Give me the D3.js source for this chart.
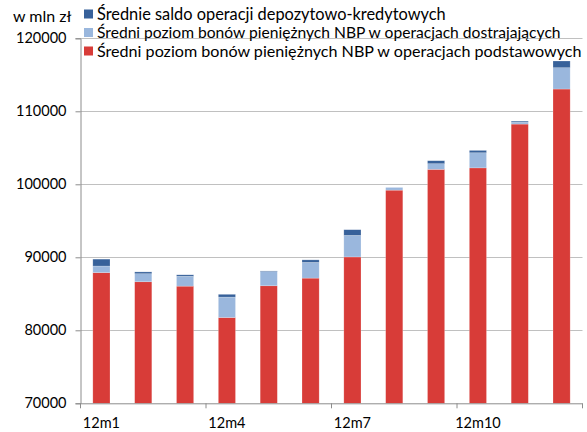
<!DOCTYPE html>
<html><head><meta charset="utf-8">
<script src="https://cdn.jsdelivr.net/npm/d3@7"></script>
<style>body{margin:0;background:#fff}svg{display:block}text{font-family:Lato,"Open Sans",sans-serif;fill:#000}</style>
</head><body><svg id="c" width="587" height="432"></svg>
<script>
const categories = ["12m1","12m2","12m3","12m4","12m5","12m6","12m7","12m8","12m9","12m10","12m11","12m12"];
const tickLabels = ["12m1","12m4","12m7","12m10"];
const yTicks = [70000,80000,90000,100000,110000,120000];
const seriesNames = ["Średni poziom bonów pieniężnych NBP w operacjach podstawowych","Średni poziom bonów pieniężnych NBP w operacjach dostrajających","Średnie saldo operacji depozytowo-kredytowych"];
const basicOps = [87900, 86650, 86050, 81750, 86100, 87150, 90050, 99200, 102050, 102250, 108250, 113050];
const fineOps = [900, 1100, 1350, 2800, 1950, 2150, 2950, 370, 770, 2070, 250, 2920];
const depoCred = [950, 250, 200, 380, 80, 350, 780, 0, 410, 320, 150, 920];
const colors = ["#d83c38","#9ab7dd","#37619a"];

const svg = d3.select("#c");
const L=80.5, R=582.5, T=38.3, B=403.3;
const x = d3.scaleBand().domain(categories).range([L,R]).paddingInner(0.59).paddingOuter(0.295);
const y = d3.scaleLinear().domain([70000,120000]).range([B,T]);
const yMin = y.domain()[0];

// gridlines
svg.append("g").selectAll("line").data(yTicks.filter(d=>d>yMin)).join("line")
  .attr("x1",L).attr("x2",R).attr("y1",d=>Math.round(y(d))+0.5).attr("y2",d=>Math.round(y(d))+0.5)
  .attr("stroke","#c0c0c0").attr("stroke-width",1);

// stacked data
const rows = categories.map((c,i)=>({cat:c, a:basicOps[i], b:fineOps[i], c2:depoCred[i]}));
const stack = d3.stack().keys(["a","b","c2"])(rows);
svg.append("g").selectAll("g").data(stack).join("g").attr("fill",(d,i)=>colors[i])
  .selectAll("rect").data(d=>d).join("rect")
  .attr("x",d=>x(d.data.cat)).attr("width",x.bandwidth())
  .attr("y",d=>y(d[1])).attr("height",d=>Math.max(0,y(Math.max(d[0],yMin))-y(d[1])))
  .attr("stroke","rgba(255,255,255,0.35)").attr("stroke-width",0.6);

// y axis
const ya = d3.axisLeft(y).tickValues(yTicks).tickSize(5).tickFormat(d3.format("d"));
const gy = svg.append("g").attr("transform",`translate(${L},0)`).call(ya);
gy.select(".domain").attr("stroke","#8c8c8c");
gy.selectAll(".tick line").attr("stroke","#8c8c8c").attr("x1",-5).attr("x2",0);
gy.selectAll(".tick text").attr("x",-14).attr("font-size","14.5px").attr("font-family","Lato").attr("fill","#000");

// x axis
const xa = d3.axisBottom(x).tickValues(tickLabels).tickSize(0);
const gx = svg.append("g").attr("transform",`translate(0,${B})`).call(xa);
gx.select(".domain").attr("stroke","#8c8c8c").attr("d",`M${L},0.5H${R}`);
gx.selectAll(".tick text").attr("y",14).attr("font-size","14.5px").attr("font-family","Lato").attr("fill","#000");
// tick marks every 3 categories at band boundaries
svg.append("g").selectAll("line").data(d3.range(0,13,3)).join("line")
  .attr("x1",i=>L+i*(R-L)/12).attr("x2",i=>L+i*(R-L)/12)
  .attr("y1",B).attr("y2",B+5).attr("stroke","#8c8c8c");

// unit label
svg.append("text").attr("x",13).attr("y",22).attr("font-size","16px").text("w mln zł");

// legend
const legendRows = [
  {name:seriesNames[2], color:colors[2], y:14.5, w:349},
  {name:seriesNames[1], color:colors[1], y:33, w:464},
  {name:seriesNames[0], color:colors[0], y:51.5, w:485}
];
const lg = svg.append("g");
legendRows.forEach(r=>{
  lg.append("rect").attr("x",84).attr("y",r.y-5).attr("width",9).attr("height",9).attr("fill",r.color);
  const t = lg.append("text").attr("x",97).attr("y",r.y+5).attr("font-size","14.5px").text(r.name);
  const len = t.node().getComputedTextLength();
  t.attr("font-size",(14.5*r.w/len).toFixed(2)+"px");
});
</script></body></html>
